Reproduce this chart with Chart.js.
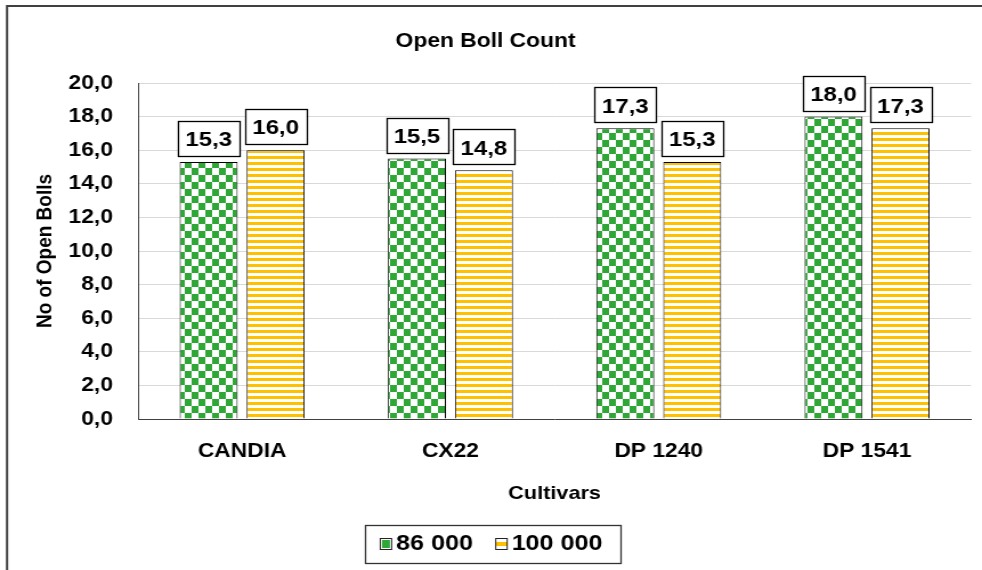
<!DOCTYPE html>
<html>
<head>
<meta charset="utf-8">
<script src="https://cdn.jsdelivr.net/npm/chart.js@4.4.1/dist/chart.umd.min.js"></script>
<style>
  html, body { margin: 0; padding: 0; background: #fff; overflow: hidden; }
  #chart { display: block; }
</style>
</head>
<body>
<!-- the reference is slightly stretched sideways, so the canvas is drawn narrower and widened by its inline style -->
<canvas id="chart" width="861" height="570" style="width:982px;height:570px"></canvas>
<script>
const categories = ['CANDIA', 'CX22', 'DP 1240', 'DP 1541'];
const seriesNames = ['86 000', '100 000'];
const values86 = [15.3, 15.5, 17.3, 18.0];
const values100 = [16.0, 14.8, 15.3, 17.3];
const yTicks = [0, 2, 4, 6, 8, 10, 12, 14, 16, 18, 20];

const GREEN = '#2fa737';
const YELLOW = '#ffc000';
const FONT = "'Liberation Sans', Arial, sans-serif";

const fmt = v => Number(v).toFixed(1).replace('.', ',');

// pattern fills (excel-like large checkerboard / wide horizontal stripes)
function checkerPattern(ctx) {
  const c = document.createElement('canvas');
  c.width = 12; c.height = 14;
  const g = c.getContext('2d');
  g.fillStyle = '#fff'; g.fillRect(0, 0, 12, 14);
  g.fillStyle = GREEN;
  g.fillRect(0, 0, 6, 7); g.fillRect(6, 7, 6, 7);
  return ctx.createPattern(c, 'repeat');
}
function stripePattern(ctx) {
  const c = document.createElement('canvas');
  c.width = 6; c.height = 6;
  const g = c.getContext('2d');
  g.fillStyle = '#fff'; g.fillRect(0, 0, 6, 6);
  g.fillStyle = YELLOW; g.fillRect(0, 0, 6, 3);
  return ctx.createPattern(c, 'repeat');
}

// legend icons: 36px wide canvas, the little square sits near its right side
function legendIcon(kind) {
  const c = document.createElement('canvas');
  c.width = 36; c.height = 12;
  const g = c.getContext('2d');
  const x0 = 21;
  g.fillStyle = '#fff'; g.fillRect(x0, 0, 11, 12);
  if (kind === 0) {
    g.fillStyle = GREEN; g.fillRect(x0 + 2, 2, 7, 8);
  } else {
    g.fillStyle = YELLOW; g.fillRect(x0 + 1, 4, 9, 4);
  }
  g.strokeStyle = '#222'; g.lineWidth = 1;
  g.strokeRect(x0 + 0.5, 0.5, 10, 11);
  return c;
}

const ctx = document.getElementById('chart').getContext('2d');

const valueBoxes = {
  id: 'valueBoxes',
  afterDatasetsDraw(chart) {
    const c = chart.ctx;
    c.save();
    c.font = 'bold 21px ' + FONT;
    c.textAlign = 'center';
    c.textBaseline = 'middle';
    chart.data.datasets.forEach((ds, di) => {
      chart.getDatasetMeta(di).data.forEach((bar, i) => {
        const w = 54, h = 35;
        const x = bar.x - w / 2;
        const y = bar.y - 6 - h;
        c.fillStyle = '#fff';
        c.fillRect(x, y, w, h);
        c.strokeStyle = '#000';
        c.lineWidth = 1.3;
        c.strokeRect(Math.round(x) + 0.5, Math.round(y) + 0.5, w, h);
        c.fillStyle = '#000';
        c.fillText(fmt(ds.data[i]), bar.x, y + h / 2 + 2);
      });
    });
    c.restore();
  }
};

const frame = {
  id: 'frame',
  afterDraw(chart) {
    const c = chart.ctx;
    c.save();
    // outer chart border (runs off the right and bottom edges)
    c.strokeStyle = '#404040';
    c.lineWidth = 2;
    c.strokeRect(6.2, 6, 1100, 700);
    // legend border
    const boxes = chart.legend.legendHitBoxes;
    if (boxes && boxes.length) {
      const left = Math.min(...boxes.map(b => b.left)) - 3;
      const right = Math.max(...boxes.map(b => b.left + b.width)) + 16;
      const cy = boxes[0].top + boxes[0].height / 2;
      c.strokeStyle = '#333';
      c.lineWidth = 1.3;
      c.strokeRect(Math.round(left) + 0.5, Math.round(cy - 19) + 0.5, Math.round(right - left), 38);
    }
    c.restore();
  }
};

new Chart(ctx, {
  type: 'bar',
  data: {
    labels: categories,
    datasets: [
      {
        label: seriesNames[0],
        data: values86,
        backgroundColor: checkerPattern(ctx),
        borderColor: '#000',
        borderWidth: 1,
        categoryPercentage: 0.643,
        barPercentage: 0.866
      },
      {
        label: seriesNames[1],
        data: values100,
        backgroundColor: stripePattern(ctx),
        borderColor: '#000',
        borderWidth: 1,
        categoryPercentage: 0.643,
        barPercentage: 0.866
      }
    ]
  },
  options: {
    responsive: false,
    animation: false,
    devicePixelRatio: 1,
    layout: { padding: { left: 0, right: 9.5, top: 0, bottom: 5 } },
    plugins: {
      tooltip: { enabled: false },
      title: {
        display: true,
        text: 'Open Boll Count',
        color: '#000',
        font: { family: FONT, size: 20, weight: 'bold' },
        padding: { top: 29, bottom: 30 }
      },
      legend: {
        position: 'bottom',
        labels: {
          color: '#000',
          font: { family: FONT, size: 22, weight: 'bold' },
          usePointStyle: true,
          pointStyleWidth: 13,
          padding: 10,
          generateLabels(chart) {
            return chart.data.datasets.map((ds, i) => ({
              text: ds.label,
              pointStyle: legendIcon(i),
              fillStyle: '#fff',
              strokeStyle: '#000',
              lineWidth: 0,
              hidden: false,
              datasetIndex: i
            }));
          }
        }
      }
    },
    scales: {
      x: {
        afterFit(scale) { scale.height = 104; },
        grid: { display: false, drawTicks: false },
        border: { display: true, color: '#404040', width: 1 },
        ticks: {
          color: '#000',
          padding: 20,
          font: { family: FONT, size: 20, weight: 'bold' }
        },
        title: {
          display: true,
          text: 'Cultivars',
          color: '#000',
          font: { family: FONT, size: 19, weight: 'bold' },
          padding: { top: 0, bottom: 18 }
        }
      },
      y: {
        min: 0,
        max: 20,
        afterFit(scale) { scale.width = 121; },
        afterBuildTicks(scale) { scale.ticks = yTicks.map(v => ({ value: v })); },
        grid: { color: '#d9d9d9', lineWidth: 1, drawTicks: false },
        border: { display: true, color: '#404040', width: 1 },
        ticks: {
          color: '#000',
          padding: 22,
          font: { family: FONT, size: 20, weight: 'bold' },
          callback: v => fmt(v)
        },
        title: {
          display: true,
          text: 'No of Open Bolls',
          color: '#000',
          font: { family: FONT, size: 19, weight: 'bold' },
          padding: { top: 28, bottom: 0 }
        }
      }
    }
  },
  plugins: [valueBoxes, frame]
});
</script>
</body>
</html>
